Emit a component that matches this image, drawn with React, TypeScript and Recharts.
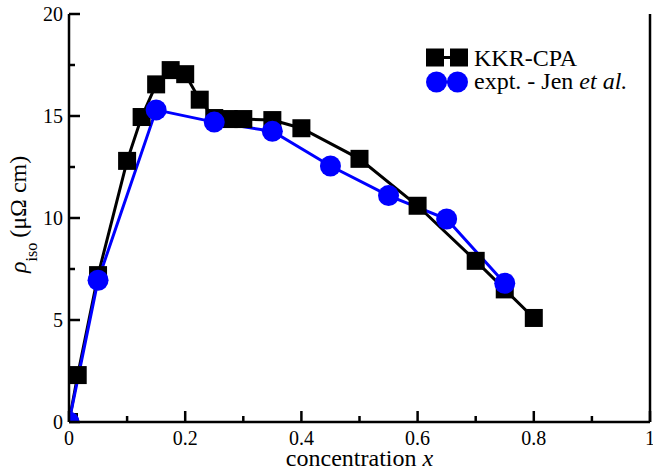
import React from "react";
import {Label, Line, LineChart, XAxis, YAxis} from "recharts";

// KKR-CPA calculation
const kkrX = [0, 0.015, 0.05, 0.1, 0.125, 0.15, 0.175, 0.2, 0.225, 0.25, 0.275, 0.3, 0.35, 0.4, 0.5, 0.6, 0.7, 0.75, 0.8];
const kkrRho = [0, 2.3, 7.2, 12.8, 14.95, 16.55, 17.25, 17.05, 15.8, 14.9, 14.85, 14.85, 14.8, 14.4, 12.9, 10.6, 7.9, 6.5, 5.1];

// experiment (Jen et al.)
const exptX = [0, 0.05, 0.15, 0.25, 0.35, 0.45, 0.55, 0.65, 0.75];
const exptRho = [0, 6.95, 15.3, 14.7, 14.25, 12.55, 11.1, 9.95, 6.8];

const xTicks = [0, 0.1, 0.2, 0.3, 0.4, 0.5, 0.6, 0.7, 0.8, 0.9, 1];
const yTicks = [0, 2.5, 5, 7.5, 10, 12.5, 15, 17.5, 20];

const seriesNames = ["KKR-CPA", "expt. - Jen "];

const kkrData = kkrX.map((x, i) => ({x, rho: kkrRho[i]}));
const exptData = exptX.map((x, i) => ({x, rho: exptRho[i]}));

const FONT = "Liberation Serif";
const AXIS = {stroke: "#000", strokeWidth: 2.5};

const isMajorX = (v: number) => Math.abs(v * 5 - Math.round(v * 5)) < 1e-6;
const isMajorY = (v: number) => Math.abs(v / 5 - Math.round(v / 5)) < 1e-6;
const fmtX = (v: number) => (v === 0 ? "0" : v === 1 ? "1" : v.toFixed(1));

const BottomTick = (props: any) => {
    const {x, y, payload} = props;
    const major = isMajorX(payload.value);
    return (
        <g>
            <line x1={x} x2={x} y1={y} y2={y - (major ? 11 : 6)} stroke="#000" strokeWidth={2.5}/>
            {major && (
                <text x={x} y={y + 23} textAnchor="middle" fontFamily={FONT} fontSize={20} fill="#000">
                    {fmtX(payload.value)}
                </text>
            )}
        </g>
    );
};

const TopTick = (props: any) => {
    const {x, y, payload} = props;
    const major = isMajorX(payload.value);
    return <line x1={x} x2={x} y1={y} y2={y + (major ? 11 : 6)} stroke="#000" strokeWidth={2.5}/>;
};

const LeftTick = (props: any) => {
    const {x, y, payload} = props;
    const major = isMajorY(payload.value);
    return (
        <g>
            <line x1={x} x2={x + (major ? 11 : 6)} y1={y} y2={y} stroke="#000" strokeWidth={2.5}/>
            {major && (
                <text x={x - 6} y={y + 7} textAnchor="end" fontFamily={FONT} fontSize={20} fill="#000">
                    {payload.value}
                </text>
            )}
        </g>
    );
};

const RightTick = (props: any) => {
    const {x, y, payload} = props;
    const major = isMajorY(payload.value);
    return <line x1={x} x2={x - (major ? 11 : 6)} y1={y} y2={y} stroke="#000" strokeWidth={2.5}/>;
};

const Square = (props: any) => {
    const {cx, cy, index} = props;
    return <rect key={"sq" + index} x={cx - 9} y={cy - 9} width={18} height={18} fill="#000"/>;
};

const YTitle = () => (
    <text transform="translate(26, 273) rotate(-90)" fontFamily={FONT} fontSize={24} fill="#000">
        <tspan fontStyle="italic">ρ</tspan>
        <tspan fontSize={16} dy={11}>iso</tspan>
        <tspan dy={-11} dx={5}>(μΩ cm)</tspan>
    </text>
);

const XTitle = () => (
    <text x={359.5} y={466} textAnchor="middle" fontFamily={FONT} fontSize={24} fill="#000">
        concentration <tspan fontStyle="italic">x</tspan>
    </text>
);

function LegendBox() {
    return (
        <svg width={653} height={470} style={{position: "absolute", left: 0, top: 0, pointerEvents: "none"}}>
            <line x1={435} x2={459} y1={57.5} y2={57.5} stroke="#000" strokeWidth={3}/>
            <rect x={426} y={48.5} width={18} height={18} fill="#000"/>
            <rect x={450} y={48.5} width={18} height={18} fill="#000"/>
            <text x={474} y={66} fontFamily={FONT} fontSize={24} fill="#000">{seriesNames[0]}</text>
            <line x1={436} x2={458} y1={82} y2={82} stroke="#0000ff" strokeWidth={3}/>
            <circle cx={436.5} cy={82} r={10.5} fill="#0000ff"/>
            <circle cx={457.5} cy={82} r={10.5} fill="#0000ff"/>
            <text x={474} y={89} fontFamily={FONT} fontSize={24} fill="#000">
                {seriesNames[1]}<tspan fontStyle="italic">et al.</tspan>
            </text>
        </svg>
    );
}

export default function App() {
    return (
        <div style={{position: "absolute", left: 0, top: 0, width: 653, height: 470, background: "#fff"}}>
            <LineChart width={653} height={470} margin={{top: 14, right: 0, left: 0, bottom: 0}}>
                <XAxis dataKey="x" type="number" domain={[0, 1]} ticks={xTicks} interval={0}
                       allowDataOverflow height={48} tickSize={0} tickMargin={0}
                       axisLine={AXIS} tickLine={false} tick={<BottomTick/>}>
                    <Label content={<XTitle/>}/>
                </XAxis>
                <XAxis xAxisId="top" orientation="top" dataKey="x" type="number" domain={[0, 1]} ticks={xTicks}
                       interval={0} height={0} tickSize={0} tickMargin={0}
                       axisLine={AXIS} tickLine={false} tick={<TopTick/>}/>
                <YAxis dataKey="rho" type="number" domain={[0, 20]} ticks={yTicks} interval={0}
                       allowDataOverflow width={69} tickSize={0} tickMargin={0}
                       axisLine={AXIS} tickLine={false} tick={<LeftTick/>}>
                    <Label content={<YTitle/>}/>
                </YAxis>
                <YAxis yAxisId="right" orientation="right" type="number" domain={[0, 20]} ticks={yTicks}
                       interval={0} width={3} tickSize={0} tickMargin={0}
                       axisLine={AXIS} tickLine={false} tick={<RightTick/>}/>
                <Line data={kkrData} dataKey="rho" type="linear" stroke="#000" strokeWidth={3}
                      dot={Square} activeDot={false} isAnimationActive={false}/>
                <Line data={exptData} dataKey="rho" type="linear" stroke="#0000ff" strokeWidth={3}
                      dot={{r: 10.5, fill: "#0000ff", stroke: "#0000ff", strokeWidth: 0}}
                      activeDot={false} isAnimationActive={false}/>
            </LineChart>
            <LegendBox/>
        </div>
    );
}
